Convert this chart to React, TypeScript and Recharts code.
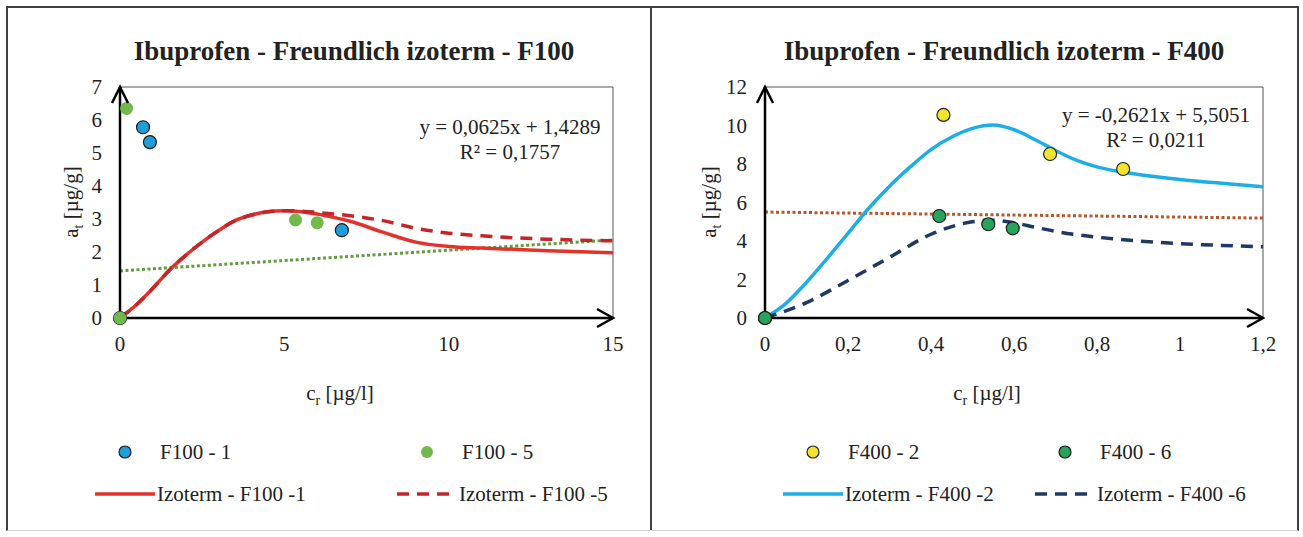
import React from 'react';
import { ComposedChart, Line, Scatter, XAxis, YAxis, ReferenceArea, ReferenceDot } from 'recharts';

type Pt = { x: number; y: number };

// ---- F100 panel data ----
const f100XTicks = [0, 5, 10, 15];
const f100YTicks = [0, 1, 2, 3, 4, 5, 6, 7];
const f100_1Points: Pt[] = [
  { x: 0, y: 0 }, { x: 0.7, y: 5.78 }, { x: 0.91, y: 5.33 }, { x: 6.75, y: 2.66 },
];
const f100_5Points: Pt[] = [
  { x: 0, y: 0 }, { x: 0.2, y: 6.35 }, { x: 5.34, y: 2.97 }, { x: 6.0, y: 2.89 },
];
const f100_1Isotherm: Pt[] = [
  { x: 0, y: 0 }, { x: 0.5, y: 0.4 }, { x: 1, y: 0.9 }, { x: 1.5, y: 1.45 }, { x: 2, y: 1.9 },
  { x: 2.5, y: 2.3 }, { x: 3, y: 2.65 }, { x: 3.5, y: 2.95 }, { x: 4, y: 3.12 }, { x: 4.5, y: 3.22 },
  { x: 5, y: 3.25 }, { x: 5.5, y: 3.22 }, { x: 6, y: 3.15 }, { x: 6.5, y: 3.05 }, { x: 7, y: 2.93 },
  { x: 8, y: 2.6 }, { x: 9, y: 2.3 }, { x: 10, y: 2.17 }, { x: 11, y: 2.12 }, { x: 12, y: 2.08 },
  { x: 13, y: 2.04 }, { x: 14, y: 2.01 }, { x: 15, y: 1.98 },
];
const f100_5Isotherm: Pt[] = [
  { x: 0, y: 0 }, { x: 0.5, y: 0.4 }, { x: 1, y: 0.9 }, { x: 1.5, y: 1.45 }, { x: 2, y: 1.9 },
  { x: 2.5, y: 2.3 }, { x: 3, y: 2.65 }, { x: 3.5, y: 2.95 }, { x: 4, y: 3.12 }, { x: 4.5, y: 3.22 },
  { x: 5, y: 3.25 }, { x: 5.5, y: 3.24 }, { x: 6, y: 3.2 }, { x: 6.5, y: 3.15 }, { x: 7, y: 3.1 },
  { x: 7.5, y: 3.03 }, { x: 8, y: 2.95 }, { x: 9, y: 2.72 }, { x: 10, y: 2.57 }, { x: 11, y: 2.49 },
  { x: 12, y: 2.43 }, { x: 13, y: 2.39 }, { x: 14, y: 2.36 }, { x: 15, y: 2.34 },
];
const f100Trend: Pt[] = [{ x: 0, y: 1.4289 }, { x: 15, y: 2.3664 }];
const f100Equation = ['y = 0,0625x + 1,4289', 'R² = 0,1757'];

// ---- F400 panel data ----
const f400XTicks = [0, 0.2, 0.4, 0.6, 0.8, 1, 1.2];
const f400YTicks = [0, 2, 4, 6, 8, 10, 12];
const f400_2Points: Pt[] = [
  { x: 0, y: 0 }, { x: 0.43, y: 10.55 }, { x: 0.687, y: 8.52 }, { x: 0.863, y: 7.74 },
];
const f400_6Points: Pt[] = [
  { x: 0, y: 0 }, { x: 0.42, y: 5.3 }, { x: 0.538, y: 4.87 }, { x: 0.597, y: 4.66 },
];
const f400_2Isotherm: Pt[] = [
  { x: 0, y: 0 }, { x: 0.05, y: 0.75 }, { x: 0.1, y: 1.85 }, { x: 0.15, y: 3.1 }, { x: 0.2, y: 4.4 },
  { x: 0.25, y: 5.7 }, { x: 0.3, y: 6.85 }, { x: 0.35, y: 7.85 }, { x: 0.4, y: 8.75 }, { x: 0.45, y: 9.4 },
  { x: 0.5, y: 9.85 }, { x: 0.55, y: 10.02 }, { x: 0.6, y: 9.78 }, { x: 0.65, y: 9.27 }, { x: 0.7, y: 8.7 },
  { x: 0.75, y: 8.2 }, { x: 0.8, y: 7.85 }, { x: 0.85, y: 7.62 }, { x: 0.9, y: 7.45 }, { x: 1, y: 7.2 },
  { x: 1.1, y: 7.0 }, { x: 1.2, y: 6.82 },
];
const f400_6Isotherm: Pt[] = [
  { x: 0, y: 0 }, { x: 0.1, y: 0.8 }, { x: 0.2, y: 1.95 }, { x: 0.3, y: 3.15 }, { x: 0.4, y: 4.35 },
  { x: 0.45, y: 4.75 }, { x: 0.5, y: 5.0 }, { x: 0.55, y: 5.08 }, { x: 0.6, y: 4.95 }, { x: 0.65, y: 4.72 },
  { x: 0.7, y: 4.5 }, { x: 0.8, y: 4.2 }, { x: 0.9, y: 4.0 }, { x: 1, y: 3.86 }, { x: 1.1, y: 3.77 },
  { x: 1.2, y: 3.7 },
];
const f400Trend: Pt[] = [{ x: 0, y: 5.5051 }, { x: 1.2, y: 5.1906 }];
const f400Equation = ['y = -0,2621x + 5,5051', 'R² = 0,0211'];

const SERIF = '"Liberation Serif", "Times New Roman", serif';
const TEXT = '#222';

type ScatterDef = { name: string; data: Pt[]; fill: string; stroke?: string };
type LineDef = { name: string; data: Pt[]; color: string; dash?: string };

type PanelProps = {
  left: number;
  width: number;
  title: string;
  titleX: number;
  xTicks: number[];
  yTicks: number[];
  yAxisWidth: number;
  scatters: ScatterDef[];
  lines: LineDef[];
  trend: { data: Pt[]; color: string };
  equation: string[];
  eqX: number;
  eqY: number;
  xTitleX: number;
  yTitleX: number;
  legendCols: number[];
};

const fmt = (v: number) => String(v).replace('.', ',');

const Panel = (p: PanelProps) => {
  const xMax = p.xTicks[p.xTicks.length - 1];
  const yMax = p.yTicks[p.yTicks.length - 1];
  const chartH = 420;
  const plotTop = 87;
  const plotBottom = 318;
  const xAxisH = 30;

  return (
    <div style={{ position: 'absolute', left: p.left, top: 0, width: p.width, height: 537 }}>
      <ComposedChart
        width={p.width}
        height={chartH}
        margin={{ top: plotTop, right: 38, left: 0, bottom: chartH - plotBottom - xAxisH }}
      >
        <XAxis
          type="number"
          dataKey="x"
          domain={[0, xMax]}
          ticks={p.xTicks}
          tickFormatter={fmt}
          height={xAxisH}
          tickLine={false}
          tickSize={6}
          tickMargin={12}
          axisLine={{ stroke: '#000', strokeWidth: 2.5 }}
          tick={{ fill: TEXT, fontSize: 21, fontFamily: SERIF }}
        />
        <YAxis
          type="number"
          dataKey="y"
          domain={[0, yMax]}
          ticks={p.yTicks}
          width={p.yAxisWidth}
          tickLine={false}
          tickSize={6}
          tickMargin={12}
          axisLine={{ stroke: '#000', strokeWidth: 2.5 }}
          tick={{ fill: TEXT, fontSize: 21, fontFamily: SERIF }}
        />
        <ReferenceArea x1={0} x2={xMax} y1={0} y2={yMax} fill="none" stroke="#555" strokeWidth={1} />
        <Line
          data={p.trend.data}
          dataKey="y"
          type="linear"
          stroke={p.trend.color}
          strokeWidth={3}
          strokeDasharray="3 2.5"
          dot={false}
          activeDot={false}
          isAnimationActive={false}
        />
        {p.lines.map((l) => (
          <Line
            key={l.name}
            name={l.name}
            data={l.data}
            dataKey="y"
            type="monotone"
            stroke={l.color}
            strokeWidth={3.5}
            strokeDasharray={l.dash}
            dot={false}
            activeDot={false}
            isAnimationActive={false}
          />
        ))}
        {p.scatters.map((s) => (
          <Scatter
            key={s.name}
            name={s.name}
            data={s.data}
            dataKey="y"
            isAnimationActive={false}
            shape={(sp: any) => (
              <circle cx={sp.cx} cy={sp.cy} r={6.5} fill={s.fill} stroke={s.stroke ?? 'none'} strokeWidth={1.2} />
            )}
          />
        ))}
        <ReferenceDot
          x={xMax}
          y={0}
          r={0}
          ifOverflow="visible"
          shape={(sp: any) => (
            <path
              d={`M ${sp.cx - 16} ${sp.cy - 9} L ${sp.cx} ${sp.cy} L ${sp.cx - 16} ${sp.cy + 9}`}
              stroke="#000"
              strokeWidth={2.5}
              fill="none"
            />
          )}
        />
        <ReferenceDot
          x={0}
          y={yMax}
          r={0}
          ifOverflow="visible"
          shape={(sp: any) => (
            <path
              d={`M ${sp.cx - 8} ${sp.cy + 16} L ${sp.cx} ${sp.cy} L ${sp.cx + 8} ${sp.cy + 16}`}
              stroke="#000"
              strokeWidth={2.5}
              fill="none"
            />
          )}
        />
      </ComposedChart>

      <svg
        width={p.width}
        height={537}
        style={{ position: 'absolute', left: 0, top: 0, pointerEvents: 'none' }}
        fontFamily={SERIF}
      >
        <text x={p.titleX} y={60} textAnchor="middle" fontSize={27} fontWeight="bold" fill={TEXT}>
          {p.title}
        </text>
        {p.equation.map((line, i) => (
          <text key={i} x={p.eqX} y={p.eqY + i * 25} textAnchor="middle" fontSize={21} fill={TEXT}>
            {line}
          </text>
        ))}
        <text x={p.xTitleX} y={400} textAnchor="middle" fontSize={21} fill={TEXT}>
          c<tspan fontSize={14} dy={5}>r</tspan>
          <tspan dy={-5}> [µg/l]</tspan>
        </text>
        <text
          x={p.yTitleX}
          y={202}
          textAnchor="middle"
          fontSize={21}
          fill={TEXT}
          transform={`rotate(-90 ${p.yTitleX} 202)`}
        >
          a<tspan fontSize={14} dy={5}>t</tspan>
          <tspan dy={-5}> [µg/g]</tspan>
        </text>

        {/* legend: markers on the first row, lines on the second */}
        {p.scatters.map((s, i) => (
          <g key={s.name}>
            <circle cx={p.legendCols[i] + 30} cy={452} r={6} fill={s.fill} stroke={s.stroke ?? 'none'} strokeWidth={1.2} />
            <text x={p.legendCols[i] + 65} y={459} fontSize={21} fill={TEXT}>
              {s.name}
            </text>
          </g>
        ))}
        {p.lines.map((l, i) => (
          <g key={l.name}>
            <line
              x1={p.legendCols[i]}
              x2={p.legendCols[i] + 60}
              y1={494}
              y2={494}
              stroke={l.color}
              strokeWidth={3.5}
              strokeDasharray={l.dash ? '12 8' : undefined}
            />
            <text x={p.legendCols[i] + 62} y={501} fontSize={21} fill={TEXT}>
              {l.name}
            </text>
          </g>
        ))}
      </svg>
    </div>
  );
};

export default function App() {
  return (
    <div style={{ position: 'absolute', left: 0, top: 0, width: 1303, height: 537, background: '#fff', overflow: 'hidden' }}>
      <div
        style={{
          position: 'absolute',
          left: 6,
          top: 6,
          width: 1289,
          height: 522,
          border: '2px solid #404040',
          borderBottom: '1px solid #d8d8d8',
        }}
      />
      <div style={{ position: 'absolute', left: 650, top: 6, width: 2, height: 524, background: '#404040' }} />

      <Panel
        left={0}
        width={651}
        title="Ibuprofen - Freundlich izoterm - F100"
        titleX={354}
        xTicks={f100XTicks}
        yTicks={f100YTicks}
        yAxisWidth={120}
        scatters={[
          { name: 'F100 - 1', data: f100_1Points, fill: '#1f9ed8', stroke: '#1b1b1b' },
          { name: 'F100 - 5', data: f100_5Points, fill: '#72b84c' },
        ]}
        lines={[
          { name: 'Izoterm - F100 -1', data: f100_1Isotherm, color: '#e3322b' },
          { name: 'Izoterm - F100 -5', data: f100_5Isotherm, color: '#c3262a', dash: '12 8' },
        ]}
        trend={{ data: f100Trend, color: '#5f9c3e' }}
        equation={f100Equation}
        eqX={510}
        eqY={134}
        xTitleX={340}
        yTitleX={78}
        legendCols={[95, 397]}
      />

      <Panel
        left={651}
        width={650}
        title="Ibuprofen - Freundlich izoterm - F400"
        titleX={353}
        xTicks={f400XTicks}
        yTicks={f400YTicks}
        yAxisWidth={114}
        scatters={[
          { name: 'F400 - 2', data: f400_2Points, fill: '#f2e42c', stroke: '#222' },
          { name: 'F400 - 6', data: f400_6Points, fill: '#27a35a', stroke: '#1b1b1b' },
        ]}
        lines={[
          { name: 'Izoterm - F400 -2', data: f400_2Isotherm, color: '#1daee4' },
          { name: 'Izoterm - F400 -6', data: f400_6Isotherm, color: '#1f3864', dash: '12 8' },
        ]}
        trend={{ data: f400Trend, color: '#b9552b' }}
        equation={f400Equation}
        eqX={505}
        eqY={122}
        xTitleX={336}
        yTitleX={65}
        legendCols={[132, 384]}
      />
    </div>
  );
}
